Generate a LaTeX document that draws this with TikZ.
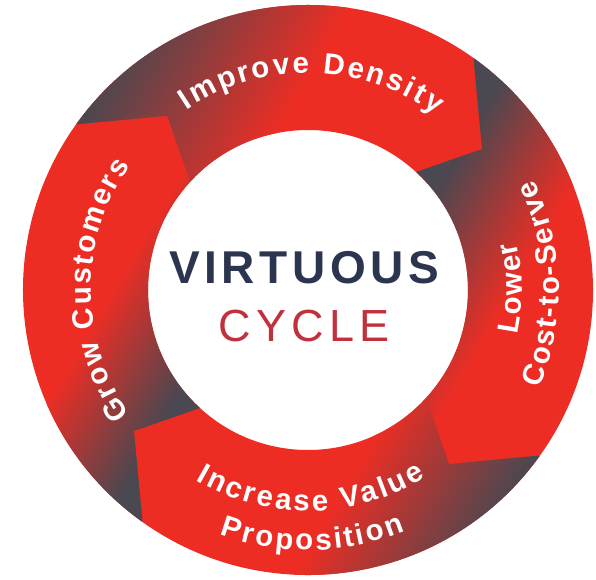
\documentclass[tikz,border=0pt]{standalone}
\usepackage{fontspec}
\setmainfont{Liberation Sans}
\usetikzlibrary{decorations.text}

\definecolor{ringred}{RGB}{237,45,36}
\definecolor{ringdark}{RGB}{74,72,80}
\definecolor{cyclenavy}{RGB}{44,53,79}
\definecolor{cyclered}{RGB}{193,49,61}

\tikzset{
  ringlabel/.style={decorate, decoration={text along path, text color=white,
      text align=fit to path, text={|\fontsize{29.5}{32}\selectfont\bfseries|#1}}}
}

% one arrow of the ring: #1 turn, #2 fade direction, #3 and #4 where the fade starts and ends
\newcommand{\ringarrow}[4]{%
  \begin{scope}
    \clip (#1+144.5:285) arc[start angle=#1+144.5, end angle=#1+54.5, radius=285]
      -- (#1+39:224) -- (#1+47.5:160)
      arc[start angle=#1+47.5, end angle=#1+137.5, radius=160]
      -- (#1+129:224) -- cycle;
    \fill[ringred] (-300,-300) rectangle (300,300);
    \begin{scope}[transform canvas={rotate=#2}]
      \fill[ringdark] (-420,-420) rectangle (#3,420);
      \shade[left color=ringdark, right color=ringred] (#3,-420) rectangle (#4,420);
    \end{scope}
  \end{scope}}

\begin{document}
\begin{tikzpicture}[x=1pt, y=1pt]
  \useasboundingbox (-308,-289) rectangle (288,290);

  \fill[ringdark, even odd rule] (0,0) circle[radius=284] (0,0) circle[radius=161];

  \ringarrow{0}{-30}{-284}{-105}
  \ringarrow{-90}{-30}{60}{178}
  \ringarrow{-180}{150}{-280}{-130}
  \ringarrow{-270}{150}{60}{170}

  \path[ringlabel=Improve Density] (124:217) arc[start angle=124, end angle=54, radius=217];
  \path[ringlabel=Lower] (-12:214) arc[start angle=-12, end angle=13, radius=214];
  \path[ringlabel=Cost-to-Serve] (-23:251) arc[start angle=-23, end angle=26, radius=251];
  \path[ringlabel=Increase Value] (-120.5:221) arc[start angle=-120.5, end angle=-58, radius=221];
  \path[ringlabel=Proposition] (-110:260) arc[start angle=-110, end angle=-68, radius=260];
  \path[ringlabel=Grow Customers] (215:217) arc[start angle=215, end angle=145, radius=217];

  \node[anchor=base, text=cyclenavy,
    font=\fontsize{46}{50}\selectfont\bfseries\addfontfeatures{LetterSpace=10}] (virtuous) at (-4,7) {VIRTUOUS};
  \node[anchor=base, text=cyclered,
    font=\fontsize{45}{50}\selectfont\addfontfeatures{LetterSpace=12}] (cycle) at (-4,-51) {CYCLE};
\end{tikzpicture}
\end{document}
